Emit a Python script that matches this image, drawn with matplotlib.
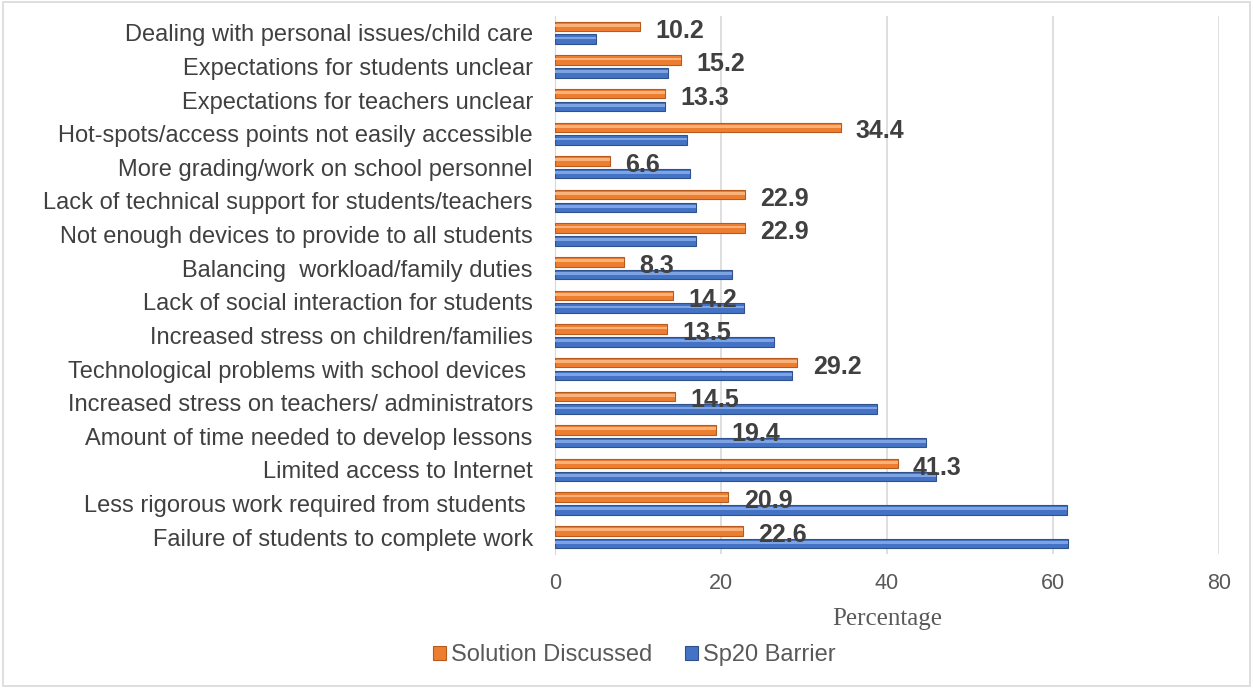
import numpy as np
import matplotlib.pyplot as plt
from matplotlib.patches import Rectangle

categories = [
    "Dealing with personal issues/child care",
    "Expectations for students unclear",
    "Expectations for teachers unclear",
    "Hot-spots/access points not easily accessible",
    "More grading/work on school personnel",
    "Lack of technical support for students/teachers",
    "Not enough devices to provide to all students",
    "Balancing  workload/family duties",
    "Lack of social interaction for students",
    "Increased stress on children/families",
    "Technological problems with school devices ",
    "Increased stress on teachers/ administrators",
    "Amount of time needed to develop lessons",
    "Limited access to Internet",
    "Less rigorous work required from students ",
    "Failure of students to complete work",
]
solution = [10.2, 15.2, 13.3, 34.4, 6.6, 22.9, 22.9, 8.3, 14.2, 13.5, 29.2, 14.5, 19.4, 41.3, 20.9, 22.6]
barrier = [4.9, 13.6, 13.3, 15.9, 16.3, 17.0, 17.0, 21.3, 22.8, 26.4, 28.6, 38.8, 44.7, 45.9, 61.7, 61.8]

ORANGE = "#ED7D31"
BLUE = "#4472C4"
TEXT = "#404040"

plt.rcParams['font.family'] = ['Liberation Sans', 'DejaVu Sans']

fig = plt.figure(figsize=(12.53, 6.88), dpi=100)
ax = fig.add_axes([555 / 1253, 1 - 554 / 688, 664 / 1253, 538 / 688])

y = np.arange(len(categories))
h = 0.28
off = 0.19
ax.barh(y - off, solution, height=h, color=ORANGE, edgecolor="#B85A1E", linewidth=0.8,
        label="Solution Discussed", zorder=3)
ax.barh(y + off, barrier, height=h, color=BLUE, edgecolor="#2F528F", linewidth=0.8,
        label="Sp20 Barrier", zorder=3)
# light highlight stripes to mimic the bevelled look
ax.barh(y - off - h * 0.12, solution, height=h * 0.3, color="#F8B27A", linewidth=0, zorder=4)
ax.barh(y + off - h * 0.12, barrier, height=h * 0.3, color="#7EA3E2", linewidth=0, zorder=4)

for yi, v in zip(y, solution):
    ax.annotate(f"{v}", (v, yi - off), xytext=(11, -3), textcoords="offset points",
                ha="left", va="center", fontsize=18, fontweight="bold", color=TEXT, zorder=5)

ax.set_ylim(len(categories) - 0.5, -0.5)
ax.set_xlim(0, 80)
ax.set_xticks([0, 20, 40, 60, 80])
ax.set_yticks(y)
ax.set_yticklabels(categories, fontsize=17, color=TEXT)
ax.tick_params(axis="x", labelsize=15.5, colors="#595959", length=0, pad=14)
ax.tick_params(axis="y", length=0, pad=16)
ax.grid(axis="x", color="#D9D9D9", linewidth=1.2, zorder=0)
for s in ["top", "right", "bottom"]:
    ax.spines[s].set_visible(False)
ax.spines["left"].set_color("#D9D9D9")

ax.set_xlabel("Percentage", fontsize=18, family="Liberation Serif", color="#595959", labelpad=10)

leg = fig.legend(loc="center", bbox_to_anchor=(634 / 1253, 1 - 655 / 688), ncol=2, frameon=False,
                 fontsize=17, handlelength=0.55, handleheight=0.55, handletextpad=0.2,
                 columnspacing=1.4, labelcolor="#595959")

fig.patches.append(Rectangle((0.002, 0.003), 0.996, 0.994, transform=fig.transFigure,
                             fill=False, edgecolor="#D9D9D9", linewidth=1.2))

fig.savefig("out.png", dpi=100)
